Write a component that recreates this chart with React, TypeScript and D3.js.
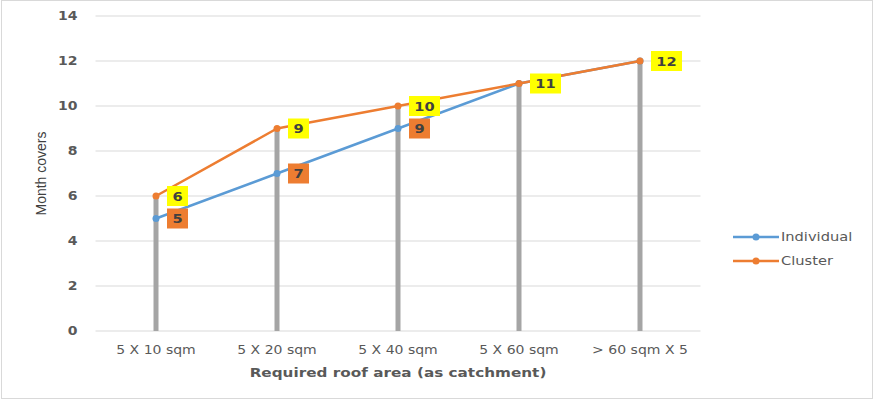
import { useEffect, useRef } from "react";
import * as d3 from "d3";

const CATEGORIES = ["5 X 10 sqm", "5 X 20 sqm", "5 X 40 sqm", "5 X 60 sqm", "> 60 sqm X 5"];
const INDIVIDUAL = [5, 7, 9, 11, 12];
const CLUSTER = [6, 9, 10, 11, 12];
const BARS = [6, 9, 10, 11, 12];
const Y_TICKS = [0, 2, 4, 6, 8, 10, 12, 14];
// individual labels that are hidden behind the cluster labels
const SHOW_IND_LABEL = [true, true, true, false, false];

const W = 874, H = 400;
const M = { left: 95.5, right: 173.5, top: 16, bottom: 69 };
const BLUE = "#5b9bd5", ORANGE = "#ed7d31", GREY = "#a5a5a5";
const FONT = "'DejaVu Sans', Verdana, sans-serif";
const SX = 1.22; // the picture's text is stretched sideways

export default function App() {
  const ref = useRef<SVGSVGElement>(null);

  useEffect(() => {
    document.body.style.margin = "0";
    if (!ref.current) return;
    const svg = d3.select(ref.current);
    svg.selectAll("*").remove();

    const cw = W - M.left - M.right, ch = H - M.top - M.bottom;
    const x = d3.scaleBand().domain(CATEGORIES).range([0, cw]);
    const y = d3.scaleLinear().domain([0, 14]).range([ch, 0]);
    const cx = (i: number) => x(CATEGORIES[i])! + x.bandwidth() / 2;
    const at = (px: number, py: number) => `translate(${px},${py}) scale(${SX},1)`;

    svg.append("rect").attr("x", 1.5).attr("y", 0.5).attr("width", W - 3).attr("height", H - 2)
      .attr("fill", "#fff").attr("stroke", "#d9d9d9");

    const g = svg.append("g").attr("transform", `translate(${M.left},${M.top})`);

    // grid
    g.selectAll(".grid").data(Y_TICKS).join("line")
      .attr("x1", 0).attr("x2", cw).attr("y1", d => y(d)).attr("y2", d => y(d))
      .attr("stroke", "#d9d9d9").attr("stroke-width", 1);

    // y tick labels
    g.selectAll(".ylbl").data(Y_TICKS).join("text")
      .attr("transform", d => at(-18, y(d) + 4)).attr("text-anchor", "end")
      .attr("font-family", FONT).attr("font-size", "11.5px").attr("font-weight", 700).attr("fill", "#595959")
      .text(d => d);

    // x tick labels
    g.selectAll(".xlbl").data(CATEGORIES).join("text")
      .attr("transform", (_, i) => at(cx(i), ch + 23)).attr("text-anchor", "middle")
      .attr("font-family", FONT).attr("font-size", "11.5px").attr("fill", "#595959")
      .text(d => d);

    // grey bars
    g.selectAll(".bar").data(BARS).join("rect")
      .attr("x", (_, i) => cx(i) - 2.5).attr("width", 5)
      .attr("y", d => y(d)).attr("height", d => ch - y(d)).attr("fill", GREY);

    const line = d3.line<number>().x((_, i) => cx(i)).y(d => y(d));
    const series = [
      { name: "Individual", data: INDIVIDUAL, color: BLUE },
      { name: "Cluster", data: CLUSTER, color: ORANGE },
    ];
    series.forEach(s => {
      g.append("path").datum(s.data).attr("d", line).attr("fill", "none")
        .attr("stroke", s.color).attr("stroke-width", 2.5).attr("stroke-linejoin", "round");
      g.selectAll(null).data(s.data).join("circle")
        .attr("cx", (_, i) => cx(i)).attr("cy", d => y(d)).attr("r", 3.5).attr("fill", s.color);
    });

    // data labels
    const addLabels = (data: number[], bg: string, show: boolean[]) => {
      data.forEach((v, i) => {
        if (!show[i]) return;
        const txt = String(v);
        const bw = txt.length > 1 ? 31 : 21;
        const lx = cx(i) + 11, ly = y(v);
        g.append("rect").attr("x", lx).attr("y", ly - 10).attr("width", bw).attr("height", 20).attr("fill", bg);
        g.append("text").attr("transform", at(lx + bw / 2, ly + 4.5)).attr("text-anchor", "middle")
          .attr("font-family", FONT).attr("font-size", "12px").attr("font-weight", 700).attr("fill", "#404040")
          .text(txt);
      });
    };
    addLabels(INDIVIDUAL, ORANGE, SHOW_IND_LABEL);
    addLabels(CLUSTER, "#ffff00", CLUSTER.map(() => true));

    // axis titles
    svg.append("text").attr("transform", at(M.left + cw / 2, 377)).attr("text-anchor", "middle")
      .attr("font-family", FONT).attr("font-size", "12.5px").attr("font-weight", 700).attr("fill", "#595959")
      .text("Required roof area (as catchment)");
    svg.append("text").attr("transform", `translate(46,${M.top + ch / 2}) rotate(-90)`).attr("text-anchor", "middle")
      .attr("font-family", "'Liberation Sans', Arial, sans-serif").attr("font-size", "14px").attr("fill", "#404040")
      .text("Month covers");

    // legend
    const lg = svg.append("g").attr("transform", "translate(733,237)");
    series.forEach((s, i) => {
      const row = lg.append("g").attr("transform", `translate(0,${i * 24})`);
      row.append("line").attr("x1", 0).attr("x2", 46).attr("stroke", s.color).attr("stroke-width", 2.5);
      row.append("circle").attr("cx", 23).attr("r", 3.5).attr("fill", s.color);
      row.append("text").attr("transform", at(48, 4)).attr("font-family", FONT).attr("font-size", "12px")
        .attr("fill", "#595959").text(s.name);
    });
  }, []);

  return <svg ref={ref} width={W} height={H} style={{ display: "block" }} />;
}
